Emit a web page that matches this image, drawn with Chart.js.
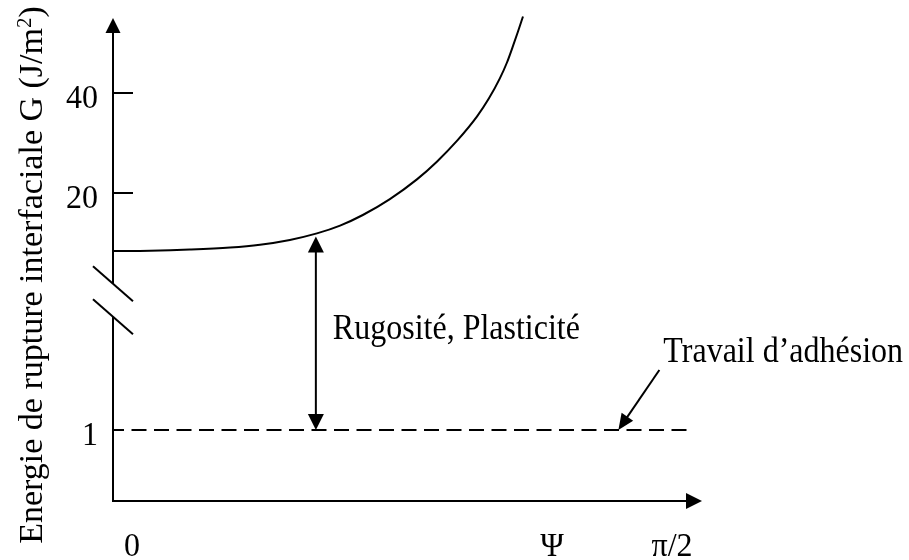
<!DOCTYPE html>
<html>
<head>
<meta charset="utf-8">
<script src="https://cdn.jsdelivr.net/npm/chart.js@4.4.1/dist/chart.umd.min.js"></script>
<style>
  html, body { margin: 0; padding: 0; background: #fff; }
  #wrap { width: 909px; height: 560px; position: relative; }
</style>
</head>
<body>
<div id="wrap"><canvas id="chart"></canvas></div>
<script>
// Mode-mixity angle Ψ (rad) and interfacial fracture energy G (J/m²)
const psi    = [0, 0.104, 0.216, 0.329, 0.413, 0.497, 0.573, 0.638, 0.702, 0.778,
                0.854, 0.910, 0.967, 1.023, 1.056, 1.087, 1.107, 1.124, 1.138, 1.152];
const energy = [8.40, 8.47, 8.70, 9.10, 9.66, 10.62, 11.92, 13.48, 15.60, 18.78,
                22.72, 26.26, 30.46, 35.32, 38.88, 42.92, 46.10, 49.42, 52.30, 55.30];

// Work of adhesion (baseline)
const adhesionPsi = [0, 1.62];
const adhesionG   = [1, 1];

// Axis ticks
const yTickValues = [1, 20, 40];
const yTickLabels = ['1', '20', '40'];
const xTickValues = [0, 1.2335, Math.PI / 2];
const xTickLabels = ['0', 'Ψ', 'π/2'];

// Annotations
const gapPsi = 0.57, gapFrom = 1, gapTo = 11.3;
const gapLabel = 'Rugosité, Plasticité';
const adhesionPointPsi = 1.42;
const adhesionLabel = 'Travail d’adhésion';
const yTitleMain = 'Energie de rupture interfaciale G (J/m';
const yTitleSup = '2';
const yTitleEnd = ')';
const breakAtG = 3.48;

const ink = '#000';
const FONT = "'Liberation Serif', 'Times New Roman', serif";

// Linear scale with a compressed break zone: each piece [from, to, weight]
class BrokenLinearScale extends Chart.LinearScale {
  static id = 'brokenLinear';
  static defaults = Chart.LinearScale.defaults;
  _dec(v) {
    const pieces = this.options.pieces;
    const total = pieces.reduce((s, p) => s + p[2], 0);
    let acc = 0;
    for (let i = 0; i < pieces.length; i++) {
      const [a, b, w] = pieces[i];
      if (v <= b || i === pieces.length - 1) return (acc + (v - a) / (b - a) * w) / total;
      acc += w;
    }
  }
  getPixelForValue(value) {
    return this.getPixelForDecimal(this._dec(value));
  }
  getValueForPixel(pixel) {
    const d = this.getDecimalForPixel(pixel);
    const pieces = this.options.pieces;
    const total = pieces.reduce((s, p) => s + p[2], 0);
    let acc = 0;
    for (let i = 0; i < pieces.length; i++) {
      const [a, b, w] = pieces[i];
      if (d * total <= acc + w || i === pieces.length - 1) return a + (d * total - acc) / w * (b - a);
      acc += w;
    }
  }
}
Chart.register(BrokenLinearScale);

function line(ctx, x1, y1, x2, y2) {
  ctx.beginPath(); ctx.moveTo(x1, y1); ctx.lineTo(x2, y2); ctx.stroke();
}
function arrowHead(ctx, tx, ty, dx, dy, len, hw) {
  const n = Math.hypot(dx, dy); dx /= n; dy /= n;
  const bx = tx - dx * len, by = ty - dy * len;
  ctx.beginPath();
  ctx.moveTo(tx, ty);
  ctx.lineTo(bx - dy * hw, by + dx * hw);
  ctx.lineTo(bx + dy * hw, by - dx * hw);
  ctx.closePath();
  ctx.fill();
}
// text with a slightly taller glyph shape
function tallText(ctx, text, x, y, size, stretch) {
  ctx.save();
  ctx.translate(x, y);
  ctx.scale(1, stretch);
  ctx.font = size + 'px ' + FONT;
  ctx.fillText(text, 0, 0);
  ctx.restore();
}

const schemaPlugin = {
  id: 'schema',
  afterDatasetsDraw(chart) {
    const { ctx, chartArea: a, scales: { x, y } } = chart;
    const X0 = x.getPixelForValue(0), Y0 = y.getPixelForValue(0);
    ctx.save();
    ctx.strokeStyle = ink; ctx.fillStyle = ink; ctx.lineWidth = 2;

    // vertical axis with break marks
    const yTip = a.top + 5;
    const bc = y.getPixelForValue(breakAtG), half = 16.5;
    line(ctx, X0, Y0 + 1, X0, bc + half);
    line(ctx, X0, bc - half, X0, yTip + 12);
    arrowHead(ctx, X0, yTip, 0, -1, 15, 7.5);
    for (const dy of [-half, half]) line(ctx, X0 - 20, bc + dy - 17.5, X0 + 20, bc + dy + 17.5);

    // horizontal axis
    const xTip = a.right;
    line(ctx, X0 - 1, Y0, xTip - 12, Y0);
    arrowHead(ctx, xTip, Y0, 1, 0, 16, 8);

    // y ticks and labels
    ctx.textAlign = 'right'; ctx.textBaseline = 'alphabetic';
    yTickValues.forEach((v, i) => {
      const py = y.getPixelForValue(v);
      if (v > breakAtG) line(ctx, X0, py, X0 + 20, py);
      tallText(ctx, yTickLabels[i], X0 - 15, py + 15, 32, 1.05);
    });

    // x labels
    ctx.textAlign = 'center';
    xTickValues.forEach((v, i) => {
      const px = x.getPixelForValue(v) + (v === 0 ? 19 : 0);
      tallText(ctx, xTickLabels[i], px, Y0 + 55, 32, 1.05);
    });

    // double arrow between adhesion and fracture energy
    const gx = x.getPixelForValue(gapPsi);
    const g1 = y.getPixelForValue(gapFrom), g2 = y.getPixelForValue(gapTo);
    line(ctx, gx, g1 - 14, gx, g2 + 14);
    arrowHead(ctx, gx, g1, 0, 1, 16, 8);
    arrowHead(ctx, gx, g2, 0, -1, 16, 8);
    ctx.textAlign = 'left';
    tallText(ctx, gapLabel, gx + 17, (g1 + g2) / 2 + 6, 32, 1.12);

    // pointer to the adhesion line
    const ax = x.getPixelForValue(adhesionPointPsi), ay = y.getPixelForValue(adhesionG[0]);
    const tx = ax + 41, ty = ay - 60;
    const dl = Math.hypot(ax - tx, ay - ty);
    line(ctx, tx, ty, ax + (tx - ax) / dl * 12, ay + (ty - ay) / dl * 12);
    arrowHead(ctx, ax, ay, ax - tx, ay - ty, 16, 7);
    tallText(ctx, adhesionLabel, tx + 4, ty - 8, 32, 1.12);

    // vertical axis title
    ctx.save();
    ctx.translate(42, 275);
    ctx.rotate(-Math.PI / 2);
    ctx.font = '34px ' + FONT;
    const wMain = ctx.measureText(yTitleMain).width;
    ctx.font = '21px ' + FONT;
    const wSup = ctx.measureText(yTitleSup).width;
    ctx.font = '34px ' + FONT;
    const wEnd = ctx.measureText(yTitleEnd).width;
    let cx = -(wMain + wSup + wEnd) / 2;
    ctx.textAlign = 'left';
    ctx.fillText(yTitleMain, cx, 0); cx += wMain;
    ctx.font = '21px ' + FONT;
    ctx.fillText(yTitleSup, cx, -11); cx += wSup;
    ctx.font = '34px ' + FONT;
    ctx.fillText(yTitleEnd, cx, 0);
    ctx.restore();

    ctx.restore();
  }
};

new Chart(document.getElementById('chart'), {
  type: 'line',
  data: {
    datasets: [
      {
        data: psi.map((p, i) => ({ x: p, y: energy[i] })),
        borderColor: ink, borderWidth: 2, pointRadius: 0,
        cubicInterpolationMode: 'monotone', fill: false
      },
      {
        data: adhesionPsi.map((p, i) => ({ x: p, y: adhesionG[i] })),
        borderColor: ink, borderWidth: 2, pointRadius: 0,
        borderDash: [15, 7.5], borderDashOffset: 4, fill: false
      }
    ]
  },
  options: {
    responsive: true,
    maintainAspectRatio: false,
    animation: false,
    devicePixelRatio: 1,
    layout: { padding: { left: 113, right: 207, top: 13, bottom: 59 } },
    plugins: { legend: { display: false }, tooltip: { enabled: false } },
    scales: {
      x: { type: 'linear', min: 0, max: 1.655, display: false },
      y: {
        type: 'brokenLinear', min: 0, max: 56, display: false,
        pieces: [[0, 1, 71], [1, 4, 157], [4, 56, 260]]
      }
    }
  },
  plugins: [schemaPlugin]
});
</script>
</body>
</html>
